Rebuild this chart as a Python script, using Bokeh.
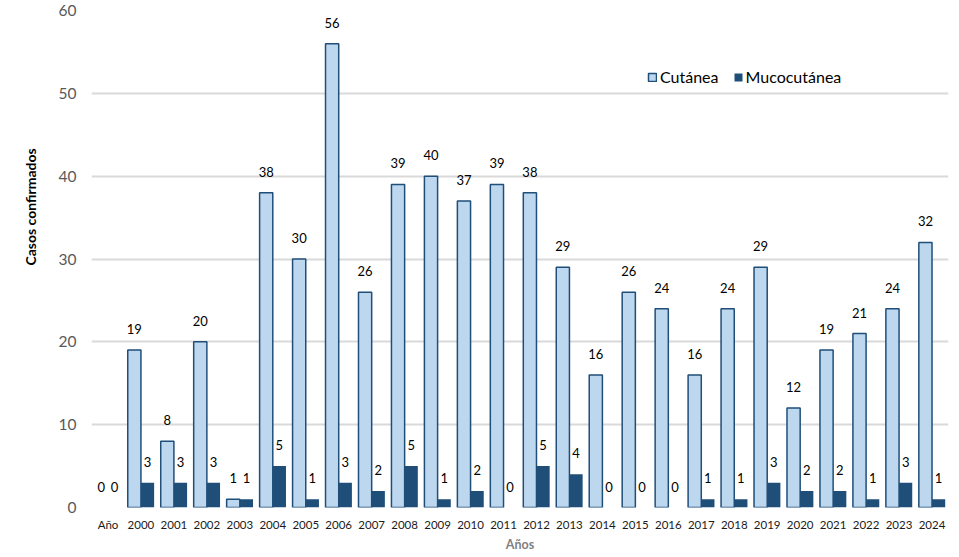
from bokeh.plotting import figure
from bokeh.models import (FactorRange, Range1d, ColumnDataSource, Legend,
                          LegendItem, Title, FixedTicker, CDSView, BooleanFilter)
from bokeh.transform import dodge
from bokeh.core.properties import value
from bokeh.embed import file_html
from bokeh.resources import INLINE

categories = ["Año", "2000", "2001", "2002", "2003", "2004", "2005", "2006",
              "2007", "2008", "2009", "2010", "2011", "2012", "2013", "2014",
              "2015", "2016", "2017", "2018", "2019", "2020", "2021", "2022",
              "2023", "2024"]
cutanea = [0, 19, 8, 20, 1, 38, 30, 56, 26, 39, 40, 37, 39, 38, 29, 16,
           26, 24, 16, 24, 29, 12, 19, 21, 24, 32]
mucocutanea = [0, 3, 3, 3, 1, 5, 1, 3, 2, 5, 1, 2, 0, 5, 4, 0,
               0, 0, 1, 1, 3, 2, 2, 1, 3, 1]
y_ticks = [0, 10, 20, 30, 40, 50, 60]
series_names = ["Cutánea", "Mucocutánea"]

FONT = "Lato"
C_LIGHT = "#BDD7EE"
C_DARK = "#1F4E79"

src = ColumnDataSource(dict(
    cat=categories,
    cut=cutanea,
    muco=mucocutanea,
    cut_lbl=[str(v) for v in cutanea],
    muco_lbl=[str(v) for v in mucocutanea],
))
# zero-height bars draw nothing (their labels are still shown)
cut_view = CDSView(filter=BooleanFilter([v > 0 for v in cutanea]))

p = figure(x_range=FactorRange(*categories, factor_padding=0, range_padding=0),
           y_range=Range1d(0, 60),
           width=952, height=554, output_backend="svg", toolbar_location=None,
           min_border_left=91, min_border_right=4, min_border_top=10,
           min_border_bottom=45)
p.outline_line_color = None
p.background_fill_color = "white"
p.border_fill_color = "white"

r1 = p.vbar(x=dodge("cat", -0.2, range=p.x_range), top="cut", width=0.4,
            source=src, view=cut_view, fill_color=C_LIGHT, line_color=C_DARK,
            line_width=1.5)
r2 = p.vbar(x=dodge("cat", 0.2, range=p.x_range), top="muco", width=0.4,
            source=src, fill_color=C_DARK, line_color=None)

p.text(x=dodge("cat", -0.2, range=p.x_range), y="cut", text="cut_lbl",
       source=src, text_font=value(FONT), text_font_size="13px",
       text_color="#000000", text_align="center", text_baseline="middle",
       y_offset=-21)
p.text(x=dodge("cat", 0.2, range=p.x_range), y="muco", text="muco_lbl",
       source=src, text_font=value(FONT), text_font_size="13px",
       text_color="#000000", text_align="center", text_baseline="middle",
       y_offset=-21)

# axes
p.xgrid.grid_line_color = None
p.ygrid.grid_line_color = "#D9D9D9"
p.ygrid.grid_line_width = 2
p.yaxis.ticker = FixedTicker(ticks=y_ticks)
for ax in (p.xaxis[0], p.yaxis[0]):
    ax.axis_line_color = None
    ax.major_tick_line_color = None
    ax.minor_tick_line_color = None
    ax.major_tick_out = 0
    ax.major_tick_in = 0
    ax.minor_tick_out = 0
    ax.minor_tick_in = 0
    ax.major_label_text_font = FONT
p.yaxis.major_label_text_font_size = "15.5px"
p.yaxis.major_label_text_color = "#595959"
p.yaxis.major_label_standoff = 15
p.xaxis.major_label_text_font_size = "11.5px"
p.xaxis.major_label_text_color = "#1a1a1a"
p.xaxis.major_label_standoff = 10
p.xaxis.axis_label = "Años"
p.xaxis.axis_label_text_font = FONT
p.xaxis.axis_label_text_font_size = "12.5px"
p.xaxis.axis_label_text_font_style = "bold"
p.xaxis.axis_label_text_color = "#7f7f7f"
p.xaxis.axis_label_standoff = 3

# y axis title, placed higher than centre like the reference
p.add_layout(Title(text="Casos confirmados", align="left", offset=242,
                   standoff=34, text_font=FONT, text_font_size="14px",
                   text_font_style="bold", text_color="#000000"), "left")

legend = Legend(items=[LegendItem(label=series_names[0], renderers=[r1]),
                       LegendItem(label=series_names[1], renderers=[r2])],
                orientation="horizontal", location=(556, 421),
                border_line_color=None, background_fill_alpha=0,
                label_text_font=FONT, label_text_font_size="16px",
                label_text_color="#000000", glyph_width=10, glyph_height=10,
                label_standoff=3, spacing=14, padding=0, margin=0)
p.add_layout(legend)

open("out.html", "w").write(file_html(p, INLINE))
